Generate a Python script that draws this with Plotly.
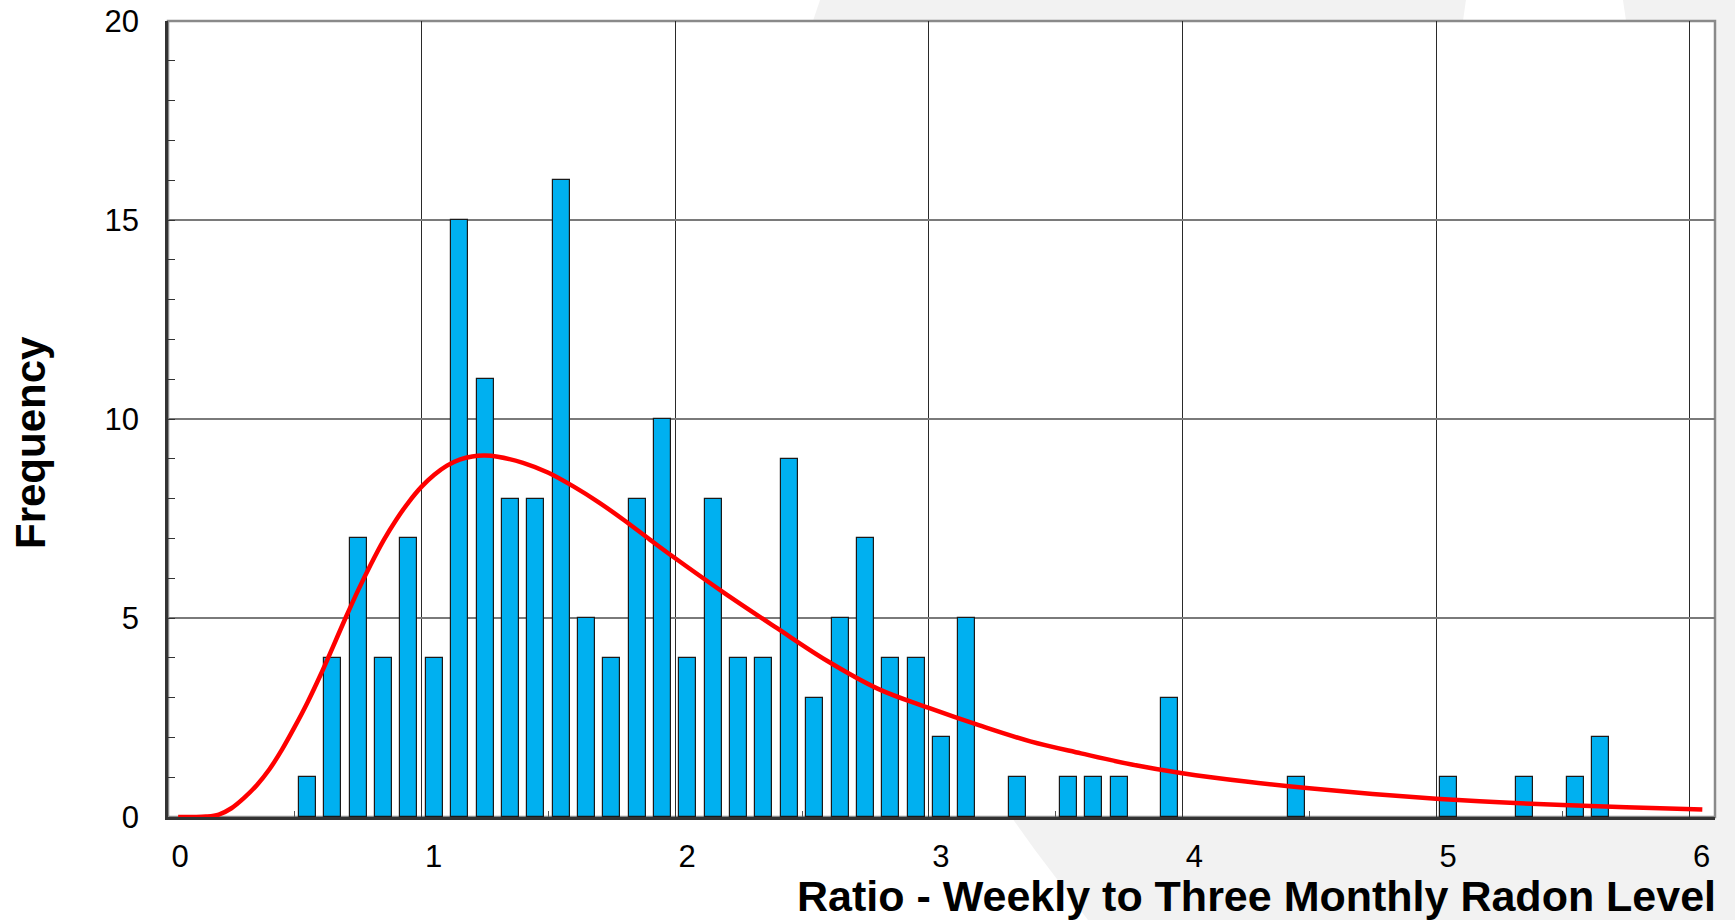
import plotly.graph_objects as go

# Histogram of weekly / three-monthly radon ratios (bin centres, counts)
bin_centres = [0.55, 0.65, 0.75, 0.85, 0.95, 1.05, 1.15, 1.25, 1.35, 1.45,
               1.55, 1.65, 1.75, 1.85, 1.95, 2.05, 2.15, 2.25, 2.35, 2.45,
               2.55, 2.65, 2.75, 2.85, 2.95, 3.05, 3.15, 3.35, 3.55, 3.65,
               3.75, 3.95, 4.45, 5.05, 5.35, 5.55, 5.65]
counts = [1, 4, 7, 4, 7, 4, 15, 11, 8, 8,
          16, 5, 4, 8, 10, 4, 8, 4, 4, 9,
          3, 5, 7, 4, 4, 2, 5, 1, 1, 1,
          1, 3, 1, 1, 1, 1, 2]

# Fitted distribution curve (ratio, expected frequency)
fit_x = [0.04, 0.10, 0.15, 0.20, 0.25, 0.30, 0.35, 0.40, 0.45, 0.50,
         0.55, 0.60, 0.65, 0.70, 0.75, 0.80, 0.85, 0.90, 0.95, 1.00,
         1.05, 1.10, 1.15, 1.20, 1.25, 1.30, 1.40, 1.50, 1.60, 1.70,
         1.80, 1.90, 2.00, 2.20, 2.40, 2.60, 2.80, 3.00, 3.20, 3.40,
         3.60, 3.80, 4.00, 4.25, 4.50, 4.75, 5.00, 5.25, 5.50, 5.75,
         6.05]
fit_y = [0.0, 0.0, 0.01, 0.06, 0.22, 0.48, 0.8, 1.2, 1.7, 2.27,
         2.88, 3.55, 4.27, 5.0, 5.7, 6.35, 6.95, 7.47, 7.92, 8.3,
         8.6, 8.83, 8.98, 9.06, 9.08, 9.05, 8.9, 8.65, 8.3, 7.9,
         7.45, 6.97, 6.5, 5.6, 4.75, 3.92, 3.22, 2.74, 2.3, 1.9,
         1.6, 1.32, 1.1, 0.89, 0.72, 0.58, 0.46, 0.37, 0.30, 0.245,
         0.19]

x_ticks = [0, 1, 2, 3, 4, 5, 6]
y_ticks = [0, 5, 10, 15, 20]

W, H = 1735, 920
L, R, T, B = 168, 20, 21, 103
PW, PH = W - L - R, H - T - B


def px(x):
    return (x - L) / PW


def py(y):
    return (H - B - y) / PH


def path(points):
    return "M " + " L ".join(f"{px(a):.4f},{py(b):.4f}" for a, b in points) + " Z"


FONT = "Liberation Sans, Arial, sans-serif"
GREY_BG = "#f2f2f2"

fig = go.Figure()

fig.add_trace(go.Bar(
    x=bin_centres, y=counts, width=0.067,
    marker=dict(color="#00b0f0", line=dict(color="#1a1a1a", width=1.2)),
    showlegend=False, hoverinfo="x+y",
))

fig.add_trace(go.Scatter(
    x=fit_x, y=fit_y, mode="lines",
    line=dict(color="#ff0000", width=4.5, shape="spline", smoothing=1.0),
    showlegend=False, hoverinfo="skip",
))

shapes = [
    # light grey page decoration on the right-hand side
    dict(type="path", xref="paper", yref="paper", layer="below",
         path=path([(820, 0), (W, 0), (W, H), (1088, H), (1035, 850),
                    (1012, 818), (900, 400), (813, 21)]),
         fillcolor=GREY_BG, line=dict(width=0)),
    dict(type="path", xref="paper", yref="paper", layer="below",
         path=path([(1466, 0), (1623, 0), (1626, 21), (1463, 21)]),
         fillcolor="white", line=dict(width=0)),
    # white plotting area with grey frame
    dict(type="rect", xref="paper", yref="paper", layer="below",
         x0=0, x1=1, y0=0, y1=1, fillcolor="white",
         line=dict(color="#8a8a8a", width=2.5)),
]

annotations = [
    dict(text="<b>Ratio - Weekly to Three Monthly Radon Level</b>",
         xref="paper", yref="paper", x=px(1718), y=py(896),
         xanchor="right", yanchor="middle", showarrow=False,
         font=dict(family=FONT, size=43, color="black")),
    dict(text="<b>Frequency</b>", textangle=-90,
         xref="paper", yref="paper", x=px(30), y=py(443),
         xanchor="center", yanchor="middle", showarrow=False,
         font=dict(family=FONT, size=42, color="black")),
]

fig.update_layout(
    width=W, height=H,
    margin=dict(l=L, r=R, t=T, b=B, pad=0, autoexpand=False),
    paper_bgcolor="white", plot_bgcolor="white",
    shapes=shapes, annotations=annotations,
    bargap=0,
    xaxis=dict(
        range=[0, 6.1], tickmode="array", tickvals=x_ticks,
        ticktext=[str(v) for v in x_ticks],
        showgrid=True, gridcolor="#2a2a2a", gridwidth=1,
        showline=True, linecolor="#333333", linewidth=2.5,
        ticks="inside", ticklen=6, tickcolor="#333333",
        minor=dict(dtick=0.5, tick0=0, ticks="inside", ticklen=6,
                   tickcolor="#555555", showgrid=False),
        tickfont=dict(family=FONT, size=31, color="black"),
        ticklabelshift=12, ticklabelstandoff=10,
        zeroline=False, fixedrange=True, automargin=False,
    ),
    yaxis=dict(
        range=[0, 20], tickmode="array", tickvals=y_ticks,
        ticktext=[str(v) for v in y_ticks],
        showgrid=True, gridcolor="#7a7a7a", gridwidth=1.8,
        showline=True, linecolor="#333333", linewidth=2.5,
        ticks="inside", ticklen=7, tickcolor="#333333",
        minor=dict(dtick=1, tick0=0, ticks="inside", ticklen=7,
                   tickcolor="#333333", showgrid=False),
        tickfont=dict(family=FONT, size=31, color="black"),
        ticklabelstandoff=20,
        zeroline=False, fixedrange=True, automargin=False,
    ),
)

fig.write_html("out.html")
